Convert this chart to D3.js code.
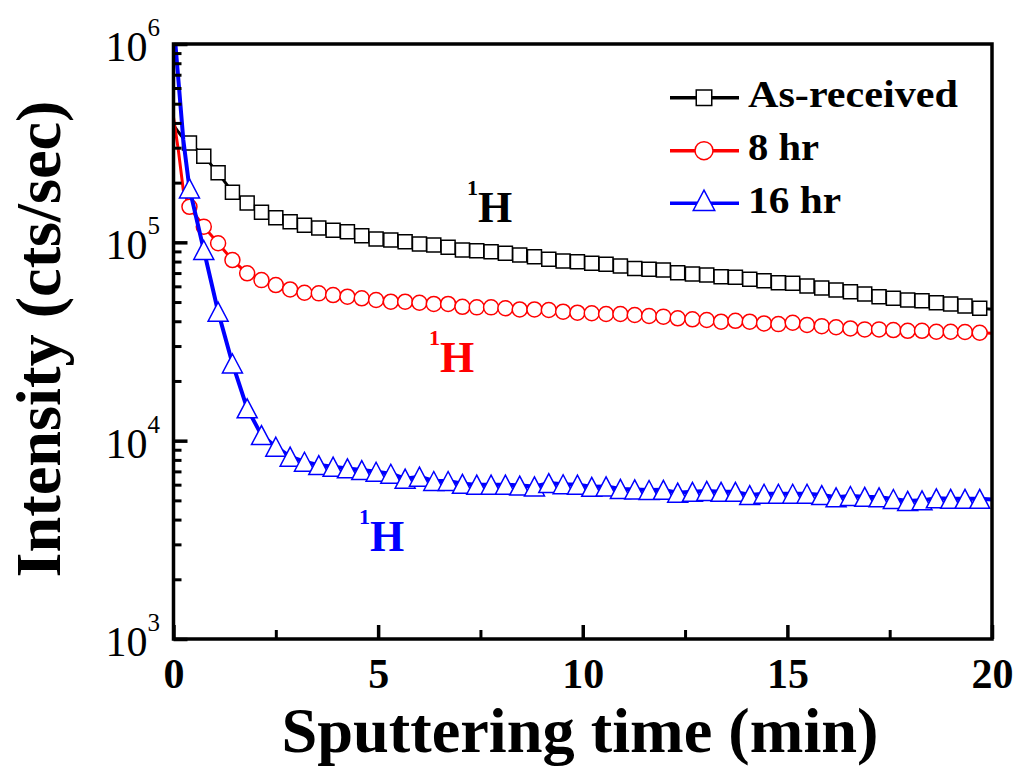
<!DOCTYPE html>
<html><head><meta charset="utf-8">
<script src="https://cdn.jsdelivr.net/npm/d3@7"></script>
<style>body{margin:0;background:#fff}svg{display:block}</style>
</head><body>
<svg id="c" width="1024" height="783"></svg>
<script>
// ---- data ----
const markerTimes = [0.39,0.74,1.09,1.44,1.80,2.15,2.50,2.85,3.20,3.55,3.90,4.25,4.60,4.95,5.31,5.66,6.01,6.36,6.71,7.06,7.41,7.76,8.11,8.46,8.82,9.17,9.52,9.87,10.22,10.57,10.92,11.27,11.62,11.97,12.32,12.68,13.03,13.38,13.73,14.08,14.43,14.78,15.13,15.48,15.84,16.19,16.54,16.89,17.24,17.59,17.94,18.29,18.64,18.99,19.34,19.70];
const asReceived = [3.17e5,2.72e5,2.24e5,1.79e5,1.58e5,1.42e5,1.33e5,1.27e5,1.22e5,1.18e5,
  1.15e5,1.13e5,1.08e5,1.04e5,1.027e5,1.007e5,9.80e4,9.69e4,9.44e4,9.15e4,
  9.07e4,8.97e4,8.80e4,8.63e4,8.46e4,8.21e4,8.05e4,7.98e4,7.84e4,7.75e4,
  7.59e4,7.39e4,7.31e4,7.25e4,7.03e4,6.92e4,6.84e4,6.71e4,6.66e4,6.51e4,
  6.40e4,6.26e4,6.21e4,6.02e4,5.88e4,5.75e4,5.64e4,5.49e4,5.32e4,5.22e4,
  5.12e4,5.08e4,4.96e4,4.89e4,4.77e4,4.65e4];
const hr8 = [1.51e5,1.20e5,9.89e4,8.14e4,6.98e4,6.45e4,6.09e4,5.79e4,5.57e4,5.53e4,
  5.42e4,5.32e4,5.22e4,5.12e4,5.02e4,5.02e4,4.96e4,4.89e4,4.89e4,4.73e4,
  4.70e4,4.70e4,4.65e4,4.59e4,4.59e4,4.56e4,4.47e4,4.42e4,4.39e4,4.35e4,
  4.35e4,4.30e4,4.25e4,4.22e4,4.14e4,4.09e4,4.06e4,3.98e4,4.02e4,3.98e4,
  3.90e4,3.87e4,3.93e4,3.83e4,3.78e4,3.73e4,3.68e4,3.64e4,3.64e4,3.61e4,
  3.58e4,3.58e4,3.54e4,3.54e4,3.53e4,3.50e4];
const hr16 = [1.87e5,9.15e4,4.47e4,2.45e4,1.455e4,1.067e4,9.32e3,8.30e3,7.83e3,7.53e3,
  7.39e3,7.25e3,7.11e3,6.97e3,6.81e3,6.43e3,6.58e3,6.26e3,6.26e3,6.06e3,
  6.00e3,6.00e3,6.00e3,5.94e3,5.88e3,6.11e3,6.03e3,6.00e3,5.85e3,5.88e3,
  5.71e3,5.68e3,5.64e3,5.65e3,5.47e3,5.52e3,5.58e3,5.52e3,5.52e3,5.32e3,
  5.40e3,5.40e3,5.40e3,5.40e3,5.32e3,5.18e3,5.26e3,5.21e3,5.18e3,5.08e3,
  4.97e3,5.00e3,5.12e3,5.09e3,5.09e3,5.09e3];
// line-only points before the first marker and at the end of the run
const leadTimes = [0, 0.12, 0.24];
const asReceivedLead = [3.9e5, 3.6e5, 3.35e5];
const hr8Lead = [4.28e5, 2.9e5, 1.83e5];
const hr16Lead = [1.3e6, 6.58e5, 3.28e5];
const endTime = 20;
const endValues = [4.6e4, 3.48e4, 5.05e3];
const seriesNames = ["As-received", "8 hr", "16 hr"];
const seriesColors = ["#000000", "#ff0000", "#0000ff"];
const seriesShapes = ["square", "circle", "triangle"];
const xTicks = [0, 5, 10, 15, 20];
const xMinorTicks = [2.5, 7.5, 12.5, 17.5];
const yTickExps = [3, 4, 5, 6];
const peakLabels = [
  {color: "#000000", x: 467, y: 222},
  {color: "#ff0000", x: 429, y: 372},
  {color: "#0000ff", x: 359, y: 551}
];

// ---- layout ----
const FONT = "'Liberation Serif','Times New Roman',serif";
const L = 173.5, R = 992, T = 44, B = 639;
const svg = d3.select("#c");
const x = d3.scaleLinear().domain([0, 20]).range([L, R]);
const y = d3.scaleLog().domain([1e3, 1e6]).range([B, T]);

svg.append("clipPath").attr("id", "clip").append("rect")
  .attr("x", L).attr("y", T).attr("width", R - L).attr("height", B - T);

const seriesVals = [asReceived, hr8, hr16];
const leads = [asReceivedLead, hr8Lead, hr16Lead];

function markerPath(shape, s) {
  if (shape === "square") return d3.symbol().type(d3.symbolSquare).size(s * s)();
  if (shape === "triangle") {
    const w = s * 1.0, h = s * 0.95;
    return `M0,${-h/2}L${w/2},${h/2}L${-w/2},${h/2}Z`;
  }
  return null;
}
const markerSize = {square: 14, circle: 15, triangle: 20};

const dataG = svg.append("g").attr("clip-path", "url(#clip)");
seriesVals.forEach((vals, i) => {
  const pts = leadTimes.map((t, j) => [t, leads[i][j]])
    .concat(markerTimes.map((t, j) => [t, vals[j]]))
    .concat([[endTime, endValues[i]]]);
  dataG.append("path")
    .attr("d", d3.line().x(d => x(d[0])).y(d => y(d[1]))(pts))
    .attr("fill", "none").attr("stroke", seriesColors[i])
    .attr("stroke-width", i === 2 ? 4 : 3).attr("stroke-linejoin", "round");
  const g = dataG.append("g");
  const shape = seriesShapes[i];
  markerTimes.forEach((t, j) => {
    const cx = x(t), cy = y(vals[j]);
    if (shape === "circle") {
      g.append("circle").attr("cx", cx).attr("cy", cy).attr("r", markerSize.circle / 2)
        .attr("fill", "#fff").attr("stroke", seriesColors[i]).attr("stroke-width", 1.5);
    } else {
      g.append("path").attr("d", markerPath(shape, markerSize[shape]))
        .attr("transform", `translate(${cx},${cy})`)
        .attr("fill", "#fff").attr("stroke", seriesColors[i]).attr("stroke-width", 1.5);
    }
  });
});

// ---- axes ----
const axG = svg.append("g");
axG.append("g").attr("transform", `translate(0,${B})`)
  .call(d3.axisBottom(x).tickValues(xTicks).tickSize(-14).tickPadding(19).tickFormat(d3.format("d")))
  .call(g => g.select(".domain").remove())
  .call(g => g.selectAll("line").attr("stroke-width", 3.5))
  .call(g => g.selectAll("text").attr("font-family", FONT).attr("font-weight", "bold")
    .attr("font-size", 42).attr("fill", "#000"));
axG.append("g").attr("transform", `translate(0,${B})`)
  .call(d3.axisBottom(x).tickValues(xMinorTicks).tickSize(-9).tickFormat(""))
  .call(g => g.select(".domain").remove())
  .call(g => g.selectAll("line").attr("stroke-width", 3));

const yMajor = yTickExps.map(e => Math.pow(10, e));
const yMinor = [];
yTickExps.slice(0, -1).forEach(e => { for (let m = 2; m <= 9; m++) yMinor.push(m * Math.pow(10, e)); });
axG.append("g").attr("transform", `translate(${L},0)`)
  .call(d3.axisLeft(y).tickValues(yMajor).tickSize(-14).tickFormat(""))
  .call(g => g.select(".domain").remove())
  .call(g => g.selectAll("line").attr("stroke-width", 3.5));
axG.append("g").attr("transform", `translate(${L},0)`)
  .call(d3.axisLeft(y).tickValues(yMinor).tickSize(-8).tickFormat(""))
  .call(g => g.select(".domain").remove())
  .call(g => g.selectAll("line").attr("stroke-width", 3));

// y tick labels 10^n
yTickExps.forEach(e => {
  const t = svg.append("text").attr("x", 160).attr("y", y(Math.pow(10, e)) + 17)
    .attr("text-anchor", "end").attr("font-family", FONT).attr("font-size", 42).attr("fill", "#000");
  t.append("tspan").text("10");
  t.append("tspan").attr("font-size", 25).attr("dy", -25).text(String(e));
});

// frame
svg.append("rect").attr("x", L).attr("y", T).attr("width", R - L).attr("height", B - T)
  .attr("fill", "none").attr("stroke", "#000").attr("stroke-width", 3.5);

// axis titles
svg.append("text").attr("x", 580).attr("y", 752).attr("text-anchor", "middle")
  .attr("font-family", FONT).attr("font-weight", "bold").attr("font-size", 64)
  .attr("textLength", 597).attr("lengthAdjust", "spacingAndGlyphs")
  .text("Sputtering time (min)");
svg.append("text").attr("transform", "translate(60,339) rotate(-90)").attr("text-anchor", "middle")
  .attr("font-family", FONT).attr("font-weight", "bold").attr("font-size", 64)
  .attr("textLength", 477).attr("lengthAdjust", "spacingAndGlyphs")
  .text("Intensity (cts/sec)");

// legend
const legY = [97.7, 150.7, 203.3];
const legTextLen = [210, 71, 93];
seriesNames.forEach((name, i) => {
  const g = svg.append("g");
  g.append("line").attr("x1", 670).attr("x2", 739).attr("y1", legY[i]).attr("y2", legY[i])
    .attr("stroke", seriesColors[i]).attr("stroke-width", 3.5);
  const shape = seriesShapes[i];
  if (shape === "circle") {
    g.append("circle").attr("cx", 704).attr("cy", legY[i]).attr("r", 9)
      .attr("fill", "#fff").attr("stroke", seriesColors[i]).attr("stroke-width", 1.5);
  } else {
    g.append("path").attr("d", markerPath(shape, shape === "square" ? 15.5 : 21.5))
      .attr("transform", `translate(704,${legY[i] - (shape === "triangle" ? 3 : 0)})`)
      .attr("fill", "#fff").attr("stroke", seriesColors[i]).attr("stroke-width", 1.5);
  }
  g.append("text").attr("x", 748).attr("y", legY[i] + 9.5)
    .attr("font-family", FONT).attr("font-weight", "bold").attr("font-size", 38)
    .attr("textLength", legTextLen[i]).attr("lengthAdjust", "spacingAndGlyphs")
    .attr("fill", "#000").text(name);
});

// 1H annotations
peakLabels.forEach(p => {
  const t = svg.append("text").attr("x", p.x).attr("y", p.y)
    .attr("font-family", FONT).attr("font-weight", "bold").attr("fill", p.color);
  t.append("tspan").attr("font-size", 22).attr("dy", -27).text("1");
  t.append("tspan").attr("font-size", 44).attr("dy", 27).text("H");
});
</script>
</body></html>
